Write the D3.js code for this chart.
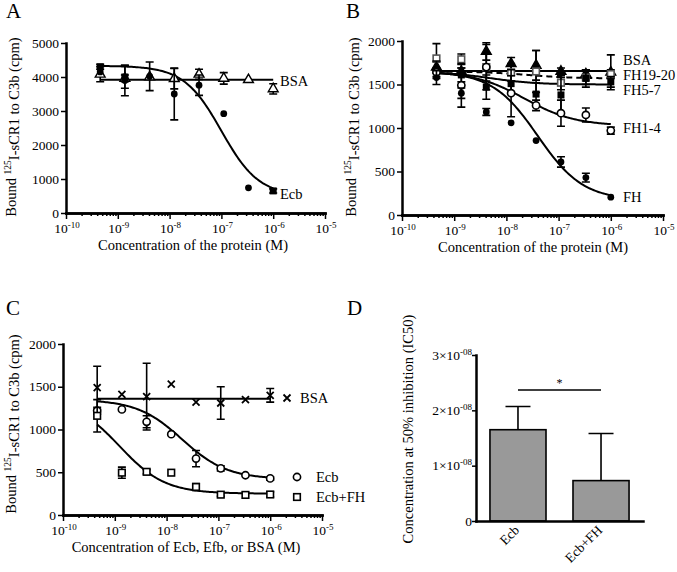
<!DOCTYPE html>
<html>
<head>
<meta charset="utf-8">
<script src="https://cdn.jsdelivr.net/npm/d3@7"></script>
<style>
  body { margin: 0; background: #fff; }
  text { font-family: "Liberation Serif", "Times New Roman", serif; fill: #000; }
  .axis .domain { stroke: #000; stroke-width: 2.5; stroke-linecap: square; }
  .axis .tick line { stroke: #000; stroke-width: 1.5; }
</style>
</head>
<body>
<script>
// concentrations used in A, B and C (M)
const conc = [4.57e-10, 1.37e-9, 4.12e-9, 1.23e-8, 3.70e-8, 1.11e-7, 3.33e-7, 1.0e-6];
const decades = [1e-10, 1e-9, 1e-8, 1e-7, 1e-6, 1e-5];
const decadeExp = ["-10", "-9", "-8", "-7", "-6", "-5"];

// panel A
const ecbA = [4150, 3900, 4020, 3500, 3760, 2920, 740, null];
const ecbAErr = [0, 450, 420, 760, 300, 0, 0, 0];
const ecbSqA = [4300, 4000, null, null, null, null, null, 650];
const ecbSqAErr = [70, 330, 0, 0, 0, 0, 0, 60];
const bsaA = [4080, 3960, 4000, 3950, 4080, 3960, 3920, 3650];
const bsaAErr = [220, 100, 0, 300, 150, 170, 0, 150];
const fitNamesA = ["BSA", "Ecb"];
const fitTopA = [3920, 4330];
const fitBottomA = [3920, 500];
const fitLogIC50A = [-7.0, -7.0];
const fitHillA = [1, 1.2];

// panel B
const bsaB = [1700, 1650, 1880, 1740, 1720, 1650, 1620, 1640];
const bsaBErr = [60, 40, 100, 70, 170, 40, 50, 200];
const fh1920B = [1800, 1790, 1700, 1640, 1650, 1520, 1580, 1620];
const fh1920BErr = [170, 60, 260, 100, 240, 80, 80, 50];
const fh57B = [1670, 1610, 1470, 1510, 1390, 1380, 1570, 1530];
const fh57BErr = [100, 80, 140, 90, 130, 200, 100, 60];
const fh14B = [1640, 1490, 1700, 1400, 1260, 1170, 1150, 970];
const fh14BErr = [50, 250, 160, 270, 60, 150, 80, 40];
const fhB = [1580, 1400, 1185, 1060, 855, 610, 430, 205];
const fhBErr = [80, 60, 40, 0, 0, 60, 50, 0];
const fitNamesB = ["BSA", "FH19-20", "FH5-7", "FH1-4", "FH"];
const fitTopB = [1655, 1650, 1645, 1650, 1650];
const fitBottomB = [1655, 1570, 1500, 1025, 170];
const fitLogIC50B = [-7.0, -7.6, -8.3, -7.65, -7.4];
const fitHillB = [1, 1, 1, 0.9, 1];

// panel C
const bsaC = [1490, 1410, 1385, 1530, 1320, 1310, 1350, 1400];
const bsaCErr = [250, 0, 390, 0, 0, 190, 0, 80];
const ecbC = [1220, 1235, 1090, 945, 660, 545, 465, 428];
const ecbCErr = [40, 0, 70, 0, 95, 30, 0, 20];
const ecbFhC = [1160, 495, 505, 495, 328, 238, 235, 240];
const ecbFhCErr = [190, 65, 25, 0, 40, 20, 0, 30];
const fitNamesC = ["BSA", "Ecb", "Ecb+FH"];
const fitTopC = [1360, 1350, 1350];
const fitBottomC = [1360, 420, 250];
const fitLogIC50C = [-7.0, -7.7, -8.9];
const fitHillC = [1, 1, 1];

// panel D
const dCats = ["Ecb", "Ecb+FH"];
const dIC50 = [1.65e-8, 0.73e-8];
const dSD = [0.42e-8, 0.85e-8];
const dTicks = [0, 1e-8, 2e-8, 3e-8];

const svg = d3.select("body").append("svg")
  .attr("width", 677)
  .attr("height", 572);

function supText(sel, base, sup, size, supSize) {
  sel.attr("font-size", size).text(base);
  sel.append("tspan").attr("font-size", supSize).attr("dy", "-0.55em").text(sup);
}

function logPanel(o) {
  const x = d3.scaleLog().domain([1e-10, 1e-5]).range([o.left, o.right]);
  const y = d3.scaleLinear().domain([0, o.ymax]).range([o.bottom, o.top]);
  const g = svg.append("g");

  const minors = [];
  decades.slice(0, -1).forEach(function(d) {
    for (let k = 2; k < 10; k++) minors.push(d * k);
  });
  g.append("g").attr("class", "axis")
    .attr("transform", "translate(0," + o.bottom + ")")
    .call(d3.axisBottom(x).tickValues(minors).tickSize(3).tickSizeOuter(0).tickFormat(""));
  g.append("g").attr("class", "axis")
    .attr("transform", "translate(0," + o.bottom + ")")
    .call(d3.axisBottom(x).tickValues(decades).tickSize(6).tickSizeOuter(0).tickFormat(""));
  g.append("g").attr("class", "axis")
    .attr("transform", "translate(" + o.left + ",0)")
    .call(d3.axisLeft(y).tickValues(o.yticks).tickSize(5).tickSizeOuter(0).tickFormat(""));

  o.yticks.forEach(function(t) {
    g.append("text").attr("x", o.left - 7).attr("y", y(t)).attr("dy", "0.35em")
      .attr("text-anchor", "end").attr("font-size", 13.5).text(t);
  });
  decades.forEach(function(d, i) {
    const t = g.append("text").attr("x", x(d) + 1).attr("y", o.bottom + 20)
      .attr("text-anchor", "middle");
    supText(t, "10", decadeExp[i], 13.5, 9);
  });

  // axis titles
  g.append("text").attr("x", o.xTitleX).attr("y", o.bottom + 37)
    .attr("text-anchor", "middle").attr("font-size", 14.5).text(o.xTitle);
  const yt = g.append("text")
    .attr("transform", "translate(" + o.yTitleX + "," + o.yTitleY + ") rotate(-90)")
    .attr("text-anchor", "middle").attr("font-size", 14.5).text("Bound ");
  yt.append("tspan").attr("font-size", 9.5).attr("dy", "-0.55em").text("125");
  yt.append("tspan").attr("dy", "0.55em").text("I-sCR1 to C3b (cpm)");

  g.append("text").attr("x", o.letterX).attr("y", o.letterY)
    .attr("font-size", 21).text(o.letter);
  return { x: x, y: y, g: g };
}

function fitLine(p, top, bottom, logIC, hill, dashed) {
  const l0 = Math.log10(conc[0]), l1 = Math.log10(conc[conc.length - 1]);
  const pts = d3.range(0, 121).map(function(i) {
    const lx = l0 + (l1 - l0) * i / 120;
    return [Math.pow(10, lx), bottom + (top - bottom) / (1 + Math.pow(10, (lx - logIC) * hill))];
  });
  p.g.append("path").datum(pts)
    .attr("d", d3.line().x(d => p.x(d[0])).y(d => p.y(d[1])))
    .attr("fill", "none").attr("stroke", "#000").attr("stroke-width", 2)
    .attr("stroke-dasharray", dashed ? "6,4" : null);
}

function marker(g, cx, cy, sym, stroke) {
  const col = stroke || "#000";
  if (sym === "fc") {
    g.append("circle").attr("cx", cx).attr("cy", cy).attr("r", 3.4).attr("fill", col);
  } else if (sym === "oc") {
    g.append("circle").attr("cx", cx).attr("cy", cy).attr("r", 3.6)
      .attr("fill", "#fff").attr("stroke", col).attr("stroke-width", 1.6);
  } else if (sym === "fs") {
    g.append("rect").attr("x", cx - 3.5).attr("y", cy - 3.5).attr("width", 7).attr("height", 7).attr("fill", col);
  } else if (sym === "os") {
    g.append("rect").attr("x", cx - 3.3).attr("y", cy - 3.3).attr("width", 6.6).attr("height", 6.6)
      .attr("fill", "#fff").attr("stroke", col).attr("stroke-width", 1.6);
  } else if (sym === "ot" || sym === "ft") {
    g.append("path").attr("transform", "translate(" + cx + "," + cy + ")")
      .attr("d", d3.symbol().type(d3.symbolTriangle).size(42)())
      .attr("fill", sym === "ft" ? col : "#fff").attr("stroke", col).attr("stroke-width", 1.4);
  } else if (sym === "x") {
    g.append("path")
      .attr("d", "M" + (cx - 3.5) + "," + (cy - 3.5) + "L" + (cx + 3.5) + "," + (cy + 3.5) +
                 "M" + (cx - 3.5) + "," + (cy + 3.5) + "L" + (cx + 3.5) + "," + (cy - 3.5))
      .attr("stroke", "#000").attr("stroke-width", 1.8);
  }
}

function series(p, vals, errs, sym, stroke) {
  vals.forEach(function(v, i) {
    if (v == null) return;
    const cx = p.x(conc[i]);
    const e = errs[i];
    if (e > 0) {
      const y1 = p.y(v - e), y2 = p.y(v + e);
      p.g.append("path")
        .attr("d", "M" + cx + "," + y1 + "V" + y2 +
                   "M" + (cx - 4) + "," + y1 + "H" + (cx + 4) +
                   "M" + (cx - 4) + "," + y2 + "H" + (cx + 4))
        .attr("stroke", "#000").attr("stroke-width", 1.6).attr("fill", "none");
    }
    marker(p.g, cx, p.y(v), sym, stroke);
  });
}

function label(p, x, y, txt) {
  p.g.append("text").attr("x", x).attr("y", y).attr("font-size", 14.5).text(txt);
}

// ---------- A ----------
const pA = logPanel({ left: 66, right: 325, top: 43, bottom: 213, ymax: 5000,
  yticks: [0, 1000, 2000, 3000, 4000, 5000], xTitle: "Concentration of the protein (M)",
  xTitleX: 193, yTitleX: 16, yTitleY: 127, letter: "A", letterX: 6, letterY: 18 });
fitNamesA.forEach(function(n, i) {
  fitLine(pA, fitTopA[i], fitBottomA[i], fitLogIC50A[i], fitHillA[i], false);
});
series(pA, bsaA, bsaAErr, "ot");
series(pA, ecbA, ecbAErr, "fc");
series(pA, ecbSqA, ecbSqAErr, "fs");
label(pA, 280, 86, "BSA");
label(pA, 280, 199, "Ecb");

// ---------- B ----------
const pB = logPanel({ left: 402, right: 663, top: 41, bottom: 215, ymax: 2000,
  yticks: [0, 500, 1000, 1500, 2000], xTitle: "Concentration of the protein (M)",
  xTitleX: 533, yTitleX: 356, yTitleY: 127, letter: "B", letterX: 346, letterY: 18 });
fitNamesB.forEach(function(n, i) {
  fitLine(pB, fitTopB[i], fitBottomB[i], fitLogIC50B[i], fitHillB[i], n === "FH19-20");
});
series(pB, bsaB, bsaBErr, "ft");
series(pB, fh1920B, fh1920BErr, "os", "#555");
series(pB, fh57B, fh57BErr, "fs");
series(pB, fh14B, fh14BErr, "oc");
series(pB, fhB, fhBErr, "fc");
label(pB, 623, 65, "BSA");
label(pB, 623, 80, "FH19-20");
label(pB, 623, 95, "FH5-7");
label(pB, 623, 133, "FH1-4");
label(pB, 623, 202, "FH");

// ---------- C ----------
const pC = logPanel({ left: 63, right: 322, top: 344, bottom: 515, ymax: 2000,
  yticks: [0, 500, 1000, 1500, 2000], xTitle: "Concentration of Ecb, Efb, or BSA (M)",
  xTitleX: 186, yTitleX: 16, yTitleY: 424, letter: "C", letterX: 6, letterY: 315 });
fitNamesC.forEach(function(n, i) {
  fitLine(pC, fitTopC[i], fitBottomC[i], fitLogIC50C[i], fitHillC[i], false);
});
series(pC, bsaC, bsaCErr, "x");
series(pC, ecbC, ecbCErr, "oc");
series(pC, ecbFhC, ecbFhCErr, "os");
marker(pC.g, 287, 398, "x");
label(pC, 300, 403, "BSA");
marker(pC.g, 297, 477, "oc");
label(pC, 316, 482, "Ecb");
marker(pC.g, 297, 497, "os");
label(pC, 316, 502, "Ecb+FH");

// ---------- D ----------
const gD = svg.append("g");
const xD = d3.scaleBand().domain(dCats).range([476, 643]).paddingInner(0.325).paddingOuter(0.168);
const yD = d3.scaleLinear().domain([0, 3e-8]).range([521, 355]);

gD.selectAll("rect.bar").data(dCats).enter().append("rect")
  .attr("class", "bar")
  .attr("x", d => xD(d))
  .attr("y", (d, i) => yD(dIC50[i]))
  .attr("width", xD.bandwidth())
  .attr("height", (d, i) => yD(0) - yD(dIC50[i]))
  .attr("fill", "#999999").attr("stroke", "#000").attr("stroke-width", 1.6);

dCats.forEach(function(c, i) {
  const cx = xD(c) + xD.bandwidth() / 2;
  const yTop = yD(dIC50[i] + dSD[i]);
  gD.append("path")
    .attr("d", "M" + cx + "," + yD(dIC50[i]) + "V" + yTop + "M" + (cx - 12.5) + "," + yTop + "H" + (cx + 12.5))
    .attr("stroke", "#000").attr("stroke-width", 1.6).attr("fill", "none");
  gD.append("text")
    .attr("transform", "translate(" + (cx + 2) + ",531) rotate(-45)")
    .attr("text-anchor", "end").attr("font-size", 13.5).text(c);
});

gD.append("g").attr("class", "axis").attr("transform", "translate(0,521)")
  .call(d3.axisBottom(xD).tickSize(0).tickSizeOuter(0).tickFormat(""));
gD.append("g").attr("class", "axis").attr("transform", "translate(476,0)")
  .call(d3.axisLeft(yD).tickValues(dTicks).tickSize(4).tickSizeOuter(0).tickFormat(""));

dTicks.forEach(function(t, i) {
  const tx = gD.append("text").attr("x", 472).attr("y", yD(t)).attr("dy", "0.35em")
    .attr("text-anchor", "end");
  if (t === 0) tx.attr("font-size", 13.5).text("0");
  else supText(tx, i + "\u00d710", "-08", 13.5, 9);
});

// significance bracket
const c0 = xD(dCats[0]) + xD.bandwidth() / 2;
const c1 = xD(dCats[1]) + xD.bandwidth() / 2;
gD.append("line").attr("x1", c0).attr("x2", c1).attr("y1", 390).attr("y2", 390)
  .attr("stroke", "#000").attr("stroke-width", 1.5);
gD.append("text").attr("x", (c0 + c1) / 2).attr("y", 387).attr("text-anchor", "middle")
  .attr("font-size", 12).text("*");

gD.append("text")
  .attr("transform", "translate(413,429) rotate(-90)")
  .attr("text-anchor", "middle").attr("font-size", 14.5)
  .text("Concentration at 50% inhibition (IC50)");
gD.append("text").attr("x", 347).attr("y", 315).attr("font-size", 21).text("D");
</script>
</body>
</html>
